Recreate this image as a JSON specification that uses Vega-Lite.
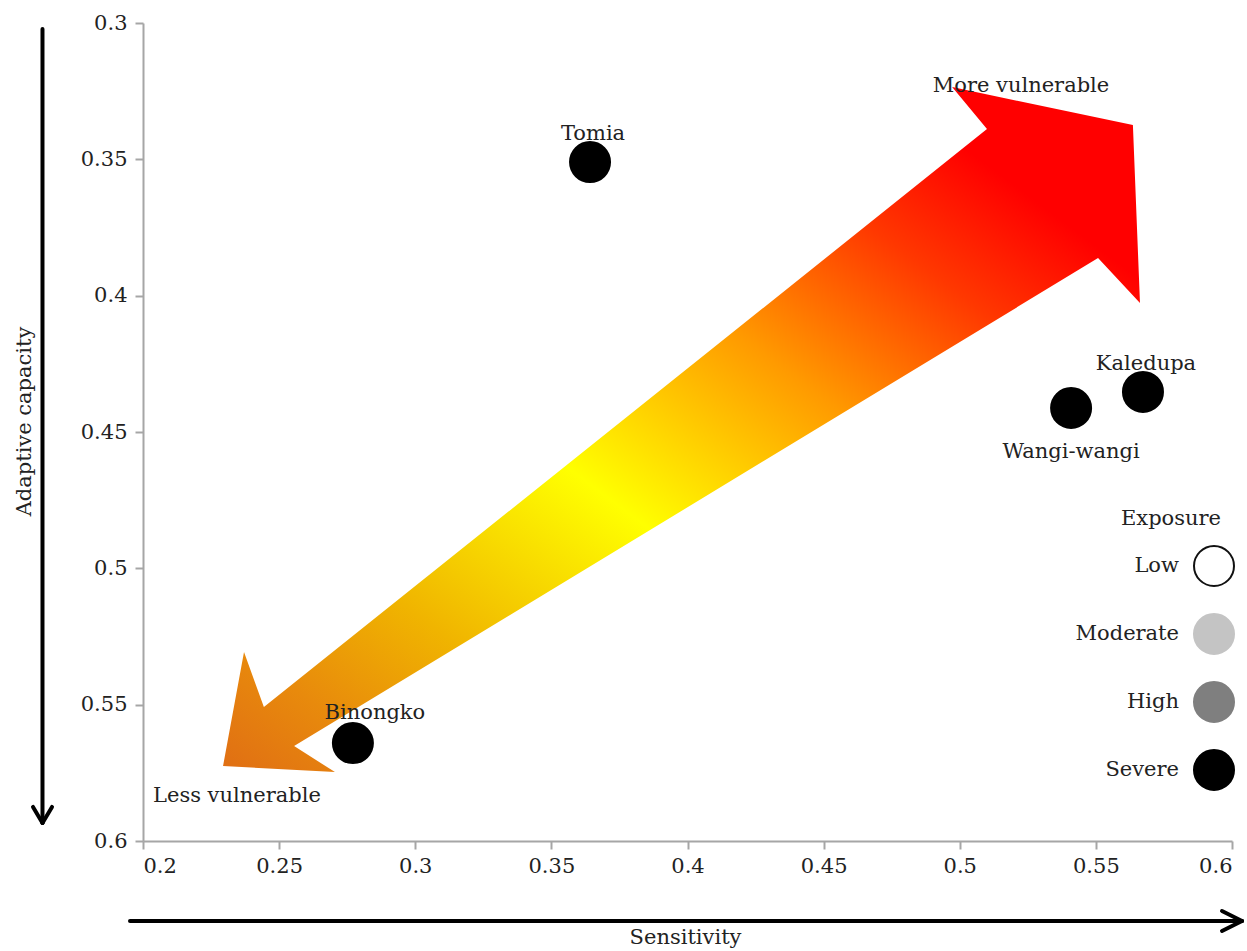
{
  "$schema": "https://vega.github.io/schema/vega-lite/v6.json",
  "autosize": {"type": "none"},
  "width": 1089,
  "height": 818,
  "padding": {"left": 143, "top": 23, "right": 15, "bottom": 110},
  "background": "white",
  "config": {
    "view": {"stroke": null},
    "font": "DejaVu Serif",
    "axis": {"grid": false, "domainColor": "#a6a6a6", "domainWidth": 2, "tickColor": "#a6a6a6", "tickWidth": 2, "tickSize": 8, "labelFont": "DejaVu Serif", "labelFontSize": 21, "labelColor": "#222222", "titleFont": "DejaVu Serif", "titleFontSize": 21, "titleFontWeight": "normal", "titleColor": "#222222"}
  },
  "datasets": {
    "arrow": [
      {"i": 1, "x": 0.5636, "y": 0.3374},
      {"i": 2, "x": 0.5662, "y": 0.4027},
      {"i": 3, "x": 0.5508, "y": 0.3862},
      {"i": 4, "x": 0.2555, "y": 0.5652},
      {"i": 5, "x": 0.2705, "y": 0.5747},
      {"i": 6, "x": 0.2294, "y": 0.5725},
      {"i": 7, "x": 0.2371, "y": 0.5307},
      {"i": 8, "x": 0.2444, "y": 0.5509},
      {"i": 9, "x": 0.5100, "y": 0.3389},
      {"i": 10, "x": 0.4972, "y": 0.3235},
      {"i": 11, "x": 0.5636, "y": 0.3374}
    ],
    "axisArrows": [
      {"x": 0.16308, "y": 0.3022, "x2": 0.16308, "y2": 0.5934},
      {"x": 0.15960, "y": 0.5875, "x2": 0.16308, "y2": 0.5934},
      {"x": 0.16658, "y": 0.5875, "x2": 0.16308, "y2": 0.5934},
      {"x": 0.19522, "y": 0.62934, "x2": 0.60367, "y2": 0.62934},
      {"x": 0.59633, "y": 0.62567, "x2": 0.60367, "y2": 0.62934},
      {"x": 0.59633, "y": 0.63300, "x2": 0.60367, "y2": 0.62934}
    ],
    "islands": [
      {"island": "Tomia", "sensitivity": 0.3642, "capacity": 0.3510, "exposure": "Severe"},
      {"island": "Binongko", "sensitivity": 0.2771, "capacity": 0.5641, "exposure": "Severe"},
      {"island": "Wangi-wangi", "sensitivity": 0.5409, "capacity": 0.4412, "exposure": "Severe"},
      {"island": "Kaledupa", "sensitivity": 0.5673, "capacity": 0.4353, "exposure": "Severe"}
    ],
    "notes": [
      {"text": "More vulnerable", "x": 0.5225, "y": 0.3253},
      {"text": "Less vulnerable", "x": 0.2345, "y": 0.5857}
    ]
  },
  "layer": [
    {
      "data": {"name": "arrow"},
      "mark": {
        "type": "line",
        "strokeOpacity": 0,
        "fill": {
          "gradient": "linear", "x1": 0, "y1": 1, "x2": 1, "y2": 0,
          "stops": [
            {"offset": 0, "color": "#e06e14"},
            {"offset": 0.1, "color": "#e88a0c"},
            {"offset": 0.22, "color": "#f0b400"},
            {"offset": 0.41, "color": "#ffff00"},
            {"offset": 0.6, "color": "#ff9a00"},
            {"offset": 0.75, "color": "#ff3800"},
            {"offset": 0.86, "color": "#ff0000"},
            {"offset": 1, "color": "#ff0000"}
          ]
        }
      },
      "encoding": {
        "x": {"field": "x", "type": "quantitative", "scale": {"domain": [0.2, 0.6], "nice": false, "zero": false},
              "axis": {"values": [0.2, 0.25, 0.3, 0.35, 0.4, 0.45, 0.5, 0.55, 0.6], "format": ".2~f", "title": "Sensitivity", "labelPadding": 6, "titleY": 85, "titleX": 542}},
        "y": {"field": "y", "type": "quantitative", "scale": {"domain": [0.3, 0.6], "nice": false, "zero": false, "reverse": true},
              "axis": {"values": [0.3, 0.35, 0.4, 0.45, 0.5, 0.55, 0.6], "format": ".2~f", "title": "Adaptive capacity", "labelPadding": 8, "titleX": -109, "titleY": 398}},
        "order": {"field": "i", "type": "quantitative"}
      }
    },
    {
      "data": {"name": "axisArrows"},
      "mark": {"type": "rule", "color": "black", "strokeWidth": 4, "strokeCap": "round", "clip": false},
      "encoding": {
        "x": {"field": "x", "type": "quantitative"},
        "y": {"field": "y", "type": "quantitative"},
        "x2": {"field": "x2"},
        "y2": {"field": "y2"}
      }
    },
    {
      "data": {"name": "islands"},
      "mark": {"type": "circle", "size": 1600, "opacity": 1, "strokeWidth": 2},
      "encoding": {
        "x": {"field": "sensitivity", "type": "quantitative"},
        "y": {"field": "capacity", "type": "quantitative"},
        "fill": {"field": "exposure", "type": "nominal",
                 "scale": {"domain": ["Low", "Moderate", "High", "Severe"], "range": ["#ffffff", "#c4c4c4", "#7f7f7f", "#000000"]},
                 "legend": {"orient": "none", "legendX": 978, "legendY": 485, "title": "Exposure", "titleFont": "DejaVu Serif", "titleFontSize": 21, "titleFontWeight": "normal", "titleColor": "#222222", "titleAlign": "left", "titleAnchor": "start", "labelFont": "DejaVu Serif", "labelFontSize": 21, "labelColor": "#222222", "labelAlign": "right", "labelOffset": -56, "symbolOffset": 72, "symbolSize": 1600, "symbolType": "circle", "symbolStrokeWidth": 2, "rowPadding": 20, "padding": 0, "titlePadding": 16}},
        "stroke": {"field": "exposure", "type": "nominal",
                   "scale": {"domain": ["Low", "Moderate", "High", "Severe"], "range": ["#111111", "#c4c4c4", "#7f7f7f", "#000000"]}}
      }
    },
    {
      "data": {"name": "islands"},
      "transform": [{"filter": "datum.island === 'Tomia' || datum.island === 'Kaledupa'"}],
      "mark": {"type": "text", "fontSize": 21, "font": "DejaVu Serif", "color": "#222222", "align": "center", "baseline": "alphabetic", "dx": 3, "dy": -22},
      "encoding": {
        "x": {"field": "sensitivity", "type": "quantitative"},
        "y": {"field": "capacity", "type": "quantitative"},
        "text": {"field": "island"}
      }
    },
    {
      "data": {"name": "islands"},
      "transform": [{"filter": "datum.island === 'Wangi-wangi'"}],
      "mark": {"type": "text", "fontSize": 21, "font": "DejaVu Serif", "color": "#222222", "align": "center", "baseline": "alphabetic", "dy": 50},
      "encoding": {
        "x": {"field": "sensitivity", "type": "quantitative"},
        "y": {"field": "capacity", "type": "quantitative"},
        "text": {"field": "island"}
      }
    },
    {
      "data": {"name": "islands"},
      "transform": [{"filter": "datum.island === 'Binongko'"}],
      "mark": {"type": "text", "fontSize": 21, "font": "DejaVu Serif", "color": "#222222", "align": "center", "baseline": "alphabetic", "dx": 22, "dy": -24},
      "encoding": {
        "x": {"field": "sensitivity", "type": "quantitative"},
        "y": {"field": "capacity", "type": "quantitative"},
        "text": {"field": "island"}
      }
    },
    {
      "data": {"name": "notes"},
      "mark": {"type": "text", "fontSize": 21, "font": "DejaVu Serif", "color": "#222222", "align": "center", "baseline": "alphabetic"},
      "encoding": {
        "x": {"field": "x", "type": "quantitative"},
        "y": {"field": "y", "type": "quantitative"},
        "text": {"field": "text"}
      }
    }
  ]
}
